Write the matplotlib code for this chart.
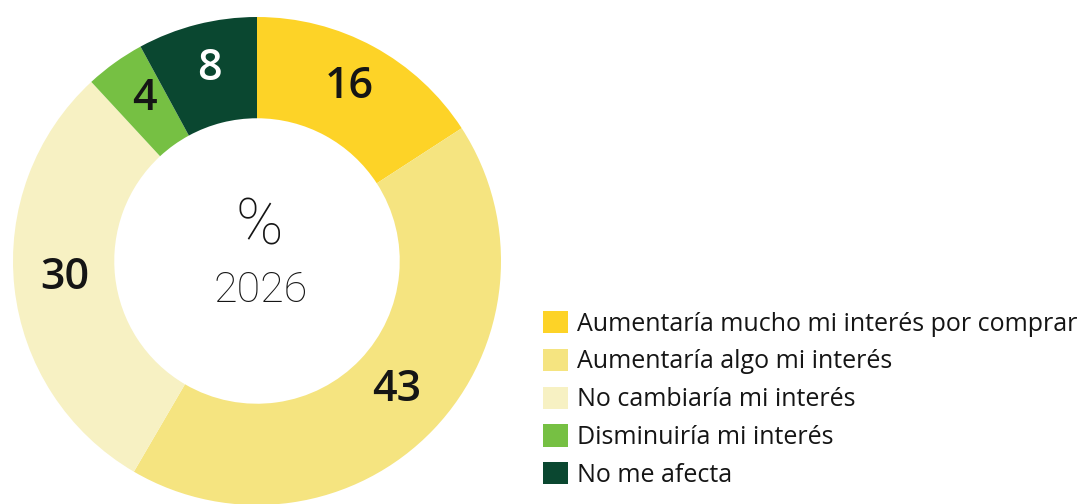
import matplotlib.pyplot as plt
import numpy as np

valores = [16, 43, 30, 4, 8]
categorias = [
	"Aumentaría mucho mi interés por comprar",
	"Aumentaría algo mi interés",
	"No cambiaría mi interés",
	"Disminuiría mi interés",
	"No me afecta",
]
colores = ["#FDD327", "#F5E480", "#F7F1C3", "#76C043", "#0A4730"]
color_texto = ["#151515", "#151515", "#151515", "#151515", "#FFFFFF"]

W, H = 1078, 504
fig = plt.figure(figsize=(W/100, H/100), dpi=100)

# anneau : centre (257, 261), rayon 244 px
cx, cy, R = 257, 261, 244
ax = fig.add_axes([(cx-R)/W, (H-cy-R)/H, 2*R/W, 2*R/H])

wedges, _ = ax.pie(
	valores,
	colors=colores,
	startangle=90,
	counterclock=False,
	radius=1.0,
	wedgeprops=dict(width=0.415, linewidth=0),
)
ax.set_xlim(-1, 1)
ax.set_ylim(-1, 1)
ax.set_aspect('equal')
ax.axis('off')

r_lab = 1 - 0.415/2
for w, v, c in zip(wedges, valores, color_texto):
	a = np.deg2rad((w.theta1 + w.theta2)/2)
	ax.text(r_lab*np.cos(a), r_lab*np.sin(a) + 0.02, str(v),
		ha='center', va='center', fontsize=31, fontweight='semibold',
		family='Open Sans', color=c)

ax.text(0.01, 0.14, "%", ha='center', va='center', fontsize=46,
	family='Roboto', fontweight='light', color='#151515')
ax.text(0.015, -0.12, "2026", ha='center', va='center', fontsize=31,
	family='Roboto', fontweight='light', color='#151515')

fig.legend(
	wedges, categorias,
	loc='upper left',
	bbox_to_anchor=(543/W, 1 - 311/H),
	frameon=False,
	prop=dict(family='Open Sans', size=18),
	handlelength=1.0, handleheight=1.0,
	handletextpad=0.35, labelspacing=0.48,
	borderpad=0, borderaxespad=0,
	labelcolor='#151515',
)

fig.savefig('out.png', dpi=100)
